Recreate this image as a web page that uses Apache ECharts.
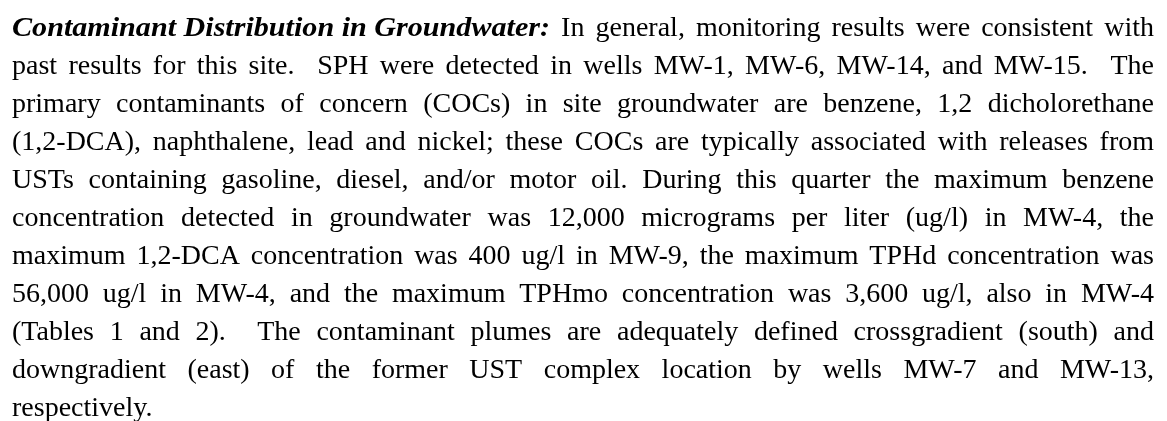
<!DOCTYPE html>
<html>
<head>
<meta charset="utf-8">
<script src="https://cdn.jsdelivr.net/npm/echarts@6/dist/echarts.min.js"></script>
<style>
html,body{margin:0;padding:0;background:#fff;}
#chart{width:1167px;height:421px;}
</style>
</head>
<body>
<div id="chart"></div>
<script>
// Content
const leadTitle = "Contaminant Distribution in Groundwater:";
const paragraphLines = [
  " In general, monitoring results were consistent with",
  "past results for this site.  SPH were detected in wells MW-1, MW-6, MW-14, and MW-15.  The",
  "primary contaminants of concern (COCs) in site groundwater are benzene, 1,2 dicholorethane",
  "(1,2-DCA), naphthalene, lead and nickel; these COCs are typically associated with releases from",
  "USTs containing gasoline, diesel, and/or motor oil. During this quarter the maximum benzene",
  "concentration detected in groundwater was 12,000 micrograms per liter (ug/l) in MW-4, the",
  "maximum 1,2-DCA concentration was 400 ug/l in MW-9, the maximum TPHd concentration was",
  "56,000 ug/l in MW-4, and the maximum TPHmo concentration was 3,600 ug/l, also in MW-4",
  "(Tables 1 and 2).  The contaminant plumes are adequately defined crossgradient (south) and",
  "downgradient (east) of the former UST complex location by wells MW-7 and MW-13,",
  "respectively."
];

const FS = 28;
const LEFT = 12, RIGHT = 1154, BASE0 = 37, PITCH = 38;
const TITLE_W = 538;
const fontNormal = FS + 'px "Liberation Serif"';
const fontBoldItalic = 'italic bold ' + FS + 'px "Liberation Serif"';
const ink = '#000';

const ctx = document.createElement('canvas').getContext('2d');
function w(txt, font){ ctx.font = font; return ctx.measureText(txt).width; }

const elements = [];
function addText(txt, x, baseline, font, sx){
  elements.push({
    type: 'text', x: x, y: baseline - FS * 0.8,
    scaleX: sx || 1,
    style: { text: txt, font: font, fill: ink, verticalAlign: 'top', align: 'left' },
    silent: true
  });
}

paragraphLines.forEach(function(line, i){
  const baseline = BASE0 + i * PITCH;
  let start = LEFT;
  const last = i === paragraphLines.length - 1;
  if (i === 0) {
    const natural = w(leadTitle, fontBoldItalic);
    addText(leadTitle, LEFT, baseline, fontBoldItalic, TITLE_W / natural);
    start = LEFT + TITLE_W;
  }
  const tokens = line.split(' ');
  const spaceW = w(' ', fontNormal);
  const nSpaces = tokens.length - 1;
  let wordsW = 0;
  tokens.forEach(function(t){ wordsW += w(t, fontNormal); });
  let gap = spaceW;
  if (!last && nSpaces > 0) gap = (RIGHT - start - wordsW) / nSpaces;
  let x = start;
  tokens.forEach(function(t, k){
    if (t.length) addText(t, x, baseline, fontNormal);
    x += w(t, fontNormal);
    if (k < nSpaces) x += gap;
  });
});

const chart = echarts.init(document.getElementById('chart'), null, {renderer: 'canvas'});
chart.setOption({
  backgroundColor: '#ffffff',
  animation: false,
  graphic: { elements: elements }
});
</script>
</body>
</html>
